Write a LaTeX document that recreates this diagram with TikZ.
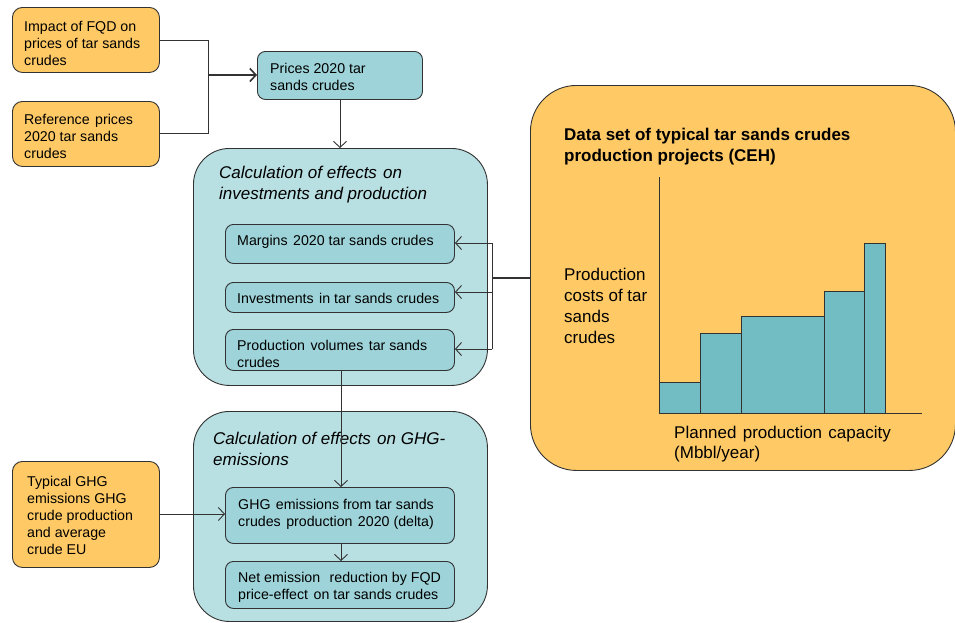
\documentclass[tikz,border=0pt]{standalone}
\usepackage{fontspec}
\setmainfont{Liberation Sans}
\usetikzlibrary{arrows.meta}
\definecolor{orangefill}{RGB}{255,202,102}
\definecolor{tealbig}{RGB}{184,223,226}
\definecolor{tealbox}{RGB}{158,212,217}
\definecolor{barfill}{RGB}{114,189,196}
\definecolor{edge}{RGB}{50,50,50}
\newcommand{\wsp}{\ \hspace{1.5pt}}
\tikzset{
  obox/.style={draw=edge, line width=0.9pt, fill=orangefill, rounded corners=10pt, anchor=north west, inner sep=0pt},
  tbox/.style={draw=edge, line width=0.9pt, fill=tealbox, rounded corners=8pt, anchor=north west, inner sep=0pt},
  bigt/.style={draw=edge, line width=0.9pt, fill=tealbig, rounded corners=36pt, anchor=north west, inner sep=0pt},
  bigo/.style={draw=edge, line width=0.9pt, fill=orangefill, rounded corners=46pt, anchor=north west, inner sep=0pt},
  txt/.style={anchor=base west, inner sep=0pt, align=left, font=\fontsize{14.2}{17}\selectfont},
  head/.style={anchor=base west, inner sep=0pt, align=left, font=\fontsize{17}{21}\selectfont\itshape},
  big/.style={anchor=base west, inner sep=0pt, align=left, font=\fontsize{17}{20.7}\selectfont},
  conn/.style={draw=edge, line width=0.9pt},
  arr/.style={conn, -{Straight Barb[length=6pt,width=13pt]}},
  bar/.style={draw=edge, line width=0.9pt, fill=barfill},
}
\begin{document}
\begin{tikzpicture}[x=1pt,y=-1pt]
\useasboundingbox (0,0) rectangle (955,622);
% left orange boxes (text nodes anchored at the baseline of their last line)
\node[obox, minimum width=147pt, minimum height=65pt] (impact) at (12,7) {};
\node[txt] (impactT) at (24,65) {Impact of FQD on\\prices of tar sands\\crudes};
\node[obox, minimum width=147pt, minimum height=65pt] (ref) at (12,101) {};
\node[txt] (refT) at (24,158) {Reference\wsp prices\\2020 tar sands\\crudes};
\node[obox, minimum width=147pt, minimum height=106pt] (typ) at (12,461) {};
\node[txt] (typT) at (27,554) {Typical GHG\\emissions GHG\\crude production\\and average\\crude EU};
% prices box
\node[tbox, minimum width=165pt, minimum height=48pt] (prices) at (257,51) {};
\node[txt] (pricesT) at (270,90) {Prices 2020 tar\\sands crudes};
% big teal box 1
\node[bigt, minimum width=294pt, minimum height=237pt] (calc1) at (193,148) {};
\node[head] (calc1T) at (219,199) {Calculation of effects\wsp on\\investments and production};
\node[tbox, minimum width=229pt, minimum height=39pt] (margins) at (225,224) {};
\node[txt] (marginsT) at (237,245) {Margins\wsp 2020 tar sands crudes};
\node[tbox, minimum width=229pt, minimum height=30pt] (invest) at (225,282) {};
\node[txt] (investT) at (237,303) {Investments\wsp in tar sands crudes};
\node[tbox, minimum width=229pt, minimum height=41pt] (prod) at (225,329) {};
\node[txt] (prodT) at (237,367) {Production\wsp volumes\wsp tar sands\\crudes};
% big teal box 2
\node[bigt, minimum width=294pt, minimum height=210pt] (calc2) at (193,411) {};
\node[head] (calc2T) at (213,465) {Calculation of effects\wsp on GHG-\\emissions};
\node[tbox, minimum width=229pt, minimum height=56pt] (ghg) at (225,487) {};
\node[txt] (ghgT) at (238,526) {GHG\wsp emissions from tar sands\\crudes\wsp production\wsp 2020 (delta)};
\node[tbox, minimum width=229pt, minimum height=47pt] (net) at (225,561) {};
\node[txt] (netT) at (238,599) {Net emission\ \wsp reduction by FQD\\price-effect\wsp on tar sands crudes};
% big orange box
\node[bigo, minimum width=425pt, minimum height=385pt] (data) at (530,85) {};
\node[big, font=\fontsize{17}{21}\selectfont\bfseries] (dataT) at (564,161) {Data set of typical tar sands crudes\\production projects (CEH)};
\node[big] (ylab) at (564,343) {Production\\costs of tar\\sands\\crudes};
\node[big, font=\fontsize{17}{20}\selectfont] (xlab) at (674,458) {Planned\wsp production\wsp capacity\\(Mbbl/year)};
% chart
\coordinate (ytop) at (659,177);
\coordinate (orig) at (659,413);
\coordinate (xend) at (922,413);
\draw[bar] (659,413) rectangle (700,382);
\draw[bar] (700,413) rectangle (741,333);
\draw[bar] (741,413) rectangle (824,316);
\draw[bar] (824,413) rectangle (864,291);
\draw[bar] (864,413) rectangle (885,243);
\draw[conn] (ytop) -- (orig) -- (xend);
% connectors
\coordinate (j1) at (208,75);
\draw[conn] (impact.east |- 0,40) -| (j1);
\draw[conn] (ref.east |- 0,133) -| (j1);
\draw[arr, line width=1.6pt] (j1) -- (prices.west |- j1);
\draw[arr] (prices.south -| 340,0) -- (calc1.north -| 340,0);
\coordinate (b1) at (492,243);
\coordinate (bm) at (492,292);
\coordinate (b2) at (492,349);
\draw[conn] (b1) -- (b2);
\draw[arr] (b1) -- (margins.east |- b1);
\draw[arr] (bm) -- (invest.east |- bm);
\draw[arr] (b2) -- (prod.east |- b2);
\draw[conn, line width=1.6pt] (492,278) -- (data.west |- 0,278);
\draw[arr] (prod.south -| 341,0) -- (ghg.north -| 341,0);
\draw[arr] (ghg.south -| 341,0) -- (net.north -| 341,0);
\draw[arr] (typ.east |- 0,514) -- (ghg.west |- 0,514);
\end{tikzpicture}
\end{document}
